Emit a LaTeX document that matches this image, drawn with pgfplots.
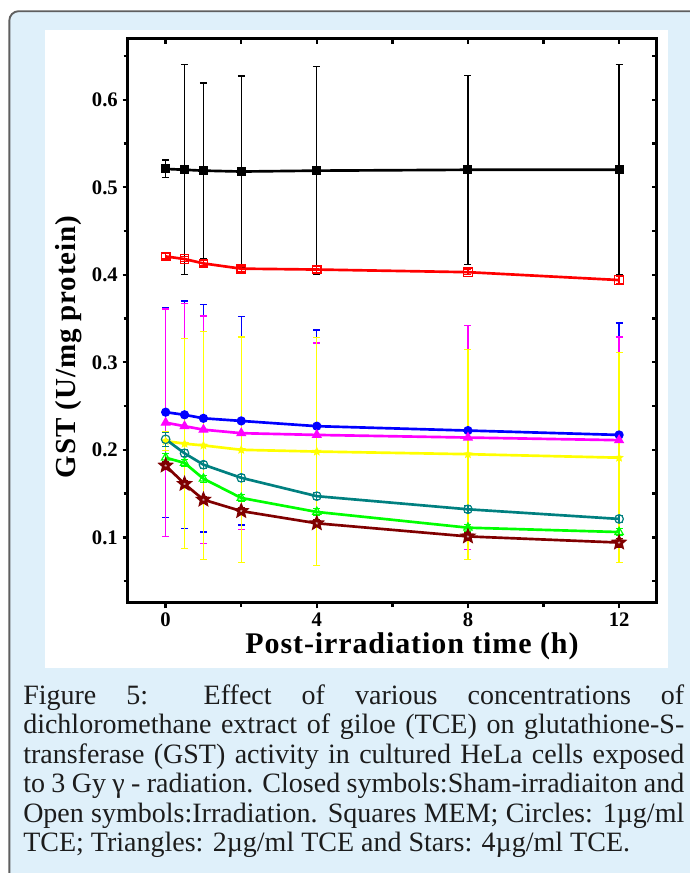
\documentclass[border=0pt]{standalone}
\usepackage{fontspec}
\setmainfont{Liberation Serif}
\usepackage{pgfplots}
\pgfplotsset{compat=1.18}
\usetikzlibrary{plotmarks}

\definecolor{panelblue}{RGB}{223,240,250}
\definecolor{framegray}{RGB}{95,95,95}
\definecolor{capgray}{RGB}{28,28,28}
\definecolor{sTeal}{RGB}{0,128,128}
\definecolor{sGreen}{RGB}{0,255,0}
\definecolor{sDarkRed}{RGB}{128,0,0}
\definecolor{sYellow}{RGB}{255,255,0}
\definecolor{sMagenta}{RGB}{255,0,255}
\definecolor{sBlue}{RGB}{0,0,255}
\definecolor{sRed}{RGB}{255,0,0}

% five-pointed star mark
\pgfdeclareplotmark{fstar}{%
  \pgfpathmoveto{\pgfpointpolar{90}{\pgfplotmarksize}}%
  \pgfpathlineto{\pgfpointpolar{126}{0.45\pgfplotmarksize}}%
  \pgfpathlineto{\pgfpointpolar{162}{\pgfplotmarksize}}%
  \pgfpathlineto{\pgfpointpolar{198}{0.45\pgfplotmarksize}}%
  \pgfpathlineto{\pgfpointpolar{234}{\pgfplotmarksize}}%
  \pgfpathlineto{\pgfpointpolar{270}{0.45\pgfplotmarksize}}%
  \pgfpathlineto{\pgfpointpolar{306}{\pgfplotmarksize}}%
  \pgfpathlineto{\pgfpointpolar{342}{0.45\pgfplotmarksize}}%
  \pgfpathlineto{\pgfpointpolar{18}{\pgfplotmarksize}}%
  \pgfpathlineto{\pgfpointpolar{54}{0.45\pgfplotmarksize}}%
  \pgfpathclose
  \pgfusepathqfillstroke}

\pgfplotsset{
  series/.style={line width=2pt, mark options={solid, line width=0.9pt}},
  errbar/.style={error bars/.cd, y dir=both, y explicit,
    error bar style={line width=1pt},
    error mark options={rotate=90, line width=1pt, mark size=2.6pt}},
}

\begin{document}
\begin{tikzpicture}
% page 689 x 873 px, 1 px = 0.75 pt
\path[use as bounding box] (0,0) rectangle (516.75pt,-654.75pt);
\fill[white] (0,0) rectangle (516.75pt,-654.75pt);
\draw[framegray, line width=1.4pt, fill=panelblue, rounded corners=7pt]
  (7pt,-8.4pt) rectangle (560pt,-700pt);
\fill[white] (33.75pt,-22.5pt) rectangle (501pt,-501pt);

\begin{axis}[
  at={(95.9pt,-452.2pt)}, anchor=south west,
  scale only axis, width=396.75pt, height=423.3pt,
  xmin=-1, xmax=13, ymin=0.025, ymax=0.67,
  axis line style={line width=2.2pt},
  xtick={0,4,8,12}, minor xtick={2,6,10},
  ytick={0.1,0.2,0.3,0.4,0.5,0.6},
  minor ytick={0.05,0.15,0.25,0.35,0.45,0.55,0.65},
  xtick pos=bottom, ytick pos=left, tick align=outside,
  major tick length=4pt, minor tick length=3.2pt,
  every tick/.style={black, line width=1.8pt},
  ticklabel style={font=\fontsize{15.5}{15.5}\selectfont\bfseries},
  /pgf/number format/assume math mode=true,
  yticklabel style={/pgf/number format/.cd, fixed, precision=1, zerofill},
  clip=false,
]
\addplot[black, series, mark=square*, mark size=2.9pt, errbar]
  table[x=x, y=y, y error=e] {
x y e
0 0.521 0.010
0.5 0.520 0.120
1 0.519 0.100
2 0.518 0.109
4 0.519 0.119
8 0.520 0.108
12 0.520 0.120
};
\addplot[sRed, series, mark=square, mark size=3.2pt, errbar]
  table[x=x, y=y, y error=e] {
x y e
0 0.421 0.003
0.5 0.418 0.003
1 0.413 0.003
2 0.407 0.003
4 0.406 0.004
8 0.403 0.003
12 0.394 0.004
};
\addplot[sBlue, series, mark=*, mark size=3pt, errbar]
  table[x=x, y=y, y error=e] {
x y e
0 0.243 0.120
0.5 0.240 0.130
1 0.236 0.130
2 0.233 0.119
4 0.227 0.110
8 0.222 0.120
12 0.217 0.128
};
\addplot[sMagenta, series, mark=triangle*, mark size=3.6pt, errbar]
  table[x=x, y=y, y error=e] {
x y e
0 0.231 0.130
0.5 0.227 0.140
1 0.223 0.130
2 0.219 0.110
4 0.217 0.105
8 0.214 0.128
12 0.211 0.118
};
\addplot[sYellow, series, mark=fstar, mark size=2.6pt, errbar]
  table[x=x, y=y, y error=e] {
x y e
0 0.210 0.011
0.5 0.207 0.120
1 0.205 0.130
2 0.200 0.129
4 0.198 0.130
8 0.195 0.120
12 0.191 0.120
};
\addplot[sTeal, series, mark=o, mark size=3.2pt, errbar]
  table[x=x, y=y, y error=e] {
x y e
0 0.212 0.008
0.5 0.196 0.004
1 0.183 0.004
2 0.168 0.004
4 0.147 0.004
8 0.132 0.004
12 0.121 0.004
};
\addplot[sGreen, series, mark=triangle, mark size=3.6pt, errbar]
  table[x=x, y=y, y error=e] {
x y e
0 0.191 0.005
0.5 0.185 0.004
1 0.167 0.004
2 0.145 0.004
4 0.129 0.004
8 0.111 0.004
12 0.106 0.004
};
\addplot[sDarkRed, series, mark=fstar, mark size=4pt,
  mark options={fill=sDarkRed!35}, errbar]
  table[x=x, y=y, y error=e] {
x y e
0 0.182 0.004
0.5 0.161 0.004
1 0.143 0.004
2 0.130 0.004
4 0.116 0.004
8 0.101 0.004
12 0.094 0.005
};
\end{axis}

% inward ticks on the top and right sides
\begin{axis}[
  at={(95.9pt,-452.2pt)}, anchor=south west,
  scale only axis, width=396.75pt, height=423.3pt,
  xmin=-1, xmax=13, ymin=0.025, ymax=0.67,
  axis line style={line width=2.2pt},
  xtick={0,2,4,6,8,10,12},
  ytick={0.05,0.1,0.15,0.2,0.25,0.3,0.35,0.4,0.45,0.5,0.55,0.6,0.65},
  xtick pos=top, ytick pos=right, tick align=inside,
  major tick length=4pt,
  every tick/.style={black, line width=1.8pt},
  xticklabels={}, yticklabels={},
]
\end{axis}

\node[anchor=base, inner sep=0,
  font=\fontsize{22.5}{22.5}\selectfont\bfseries\addfontfeatures{LetterSpace=3}]
  at (309pt,-489.75pt) {Post-irradiation time (h)};
\node[rotate=90, anchor=base, inner sep=0,
  font=\fontsize{21.75}{21.75}\selectfont\bfseries\addfontfeatures{LetterSpace=3}]
  at (56.25pt,-260.25pt) {GST (U/mg protein)};

\node[anchor=north west, inner sep=0, text width=495.75pt, align=justify,
  text=capgray]
  at (17.25pt,-512.5pt)
  {\fontsize{21}{22.1}\selectfont\hyphenpenalty=10000\tolerance=9999%
   \strut Figure 5: Effect of various concentrations of\linebreak
   dichloromethane extract of giloe (TCE) on glutathione-S-\linebreak
   transferase (GST) activity in cultured HeLa cells exposed\linebreak
   to 3 Gy γ - radiation. Closed symbols:Sham-irradiaiton and\linebreak
   Open symbols:Irradiation. Squares MEM; Circles: 1µg/ml\linebreak
   TCE; Triangles: 2µg/ml TCE and Stars: 4µg/ml TCE.\par};
\end{tikzpicture}
\end{document}
